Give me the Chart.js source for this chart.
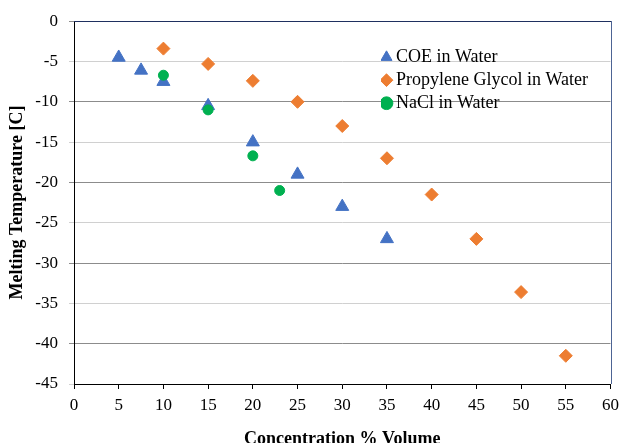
<!DOCTYPE html>
<html><head><meta charset="utf-8">
<script src="https://cdn.jsdelivr.net/npm/chart.js@4"></script>
<style>html,body{margin:0;padding:0;background:#fff}canvas{display:block}</style>
</head><body>
<canvas id="c" width="619" height="443"></canvas>
<script>
// ---- data ----
const seriesNames = ['COE in Water', 'Propylene Glycol in Water', 'NaCl in Water'];
const coeX = [5, 7.5, 10, 15, 20, 25, 30, 35];
const coeY = [-4.5, -6.1, -7.5, -10.5, -15, -19, -23, -27];
const pgX = [10, 15, 20, 25, 30, 35, 40, 45, 50, 55];
const pgY = [-3.4, -5.3, -7.4, -10, -13, -17, -21.5, -27, -33.6, -41.5];
const naclX = [10, 15, 20, 23];
const naclY = [-6.7, -11, -16.7, -21];
const xTitle = 'Concentration % Volume';
const yTitle = 'Melting Temperature [C]';
const xMin = 0, xMax = 60, xStep = 5;
const yMin = -45, yMax = 0, yStep = 5;

const toPoints = (xs, ys) => xs.map((x, i) => ({x: x, y: ys[i]}));

const FONT = "'Liberation Serif','Times New Roman',Times,serif";
Chart.defaults.font.family = FONT;
Chart.defaults.font.size = 17;
Chart.defaults.color = '#000';

const gridColor = (c) => (Math.abs(c.tick ? c.tick.value : 0) % 10 === 0) ? '#8c8c8c' : '#d0d0d0';

const framePlugin = {
  id: 'frame',
  afterDatasetsDraw(chart) {
    const {ctx, chartArea: a} = chart;
    ctx.save();
    ctx.lineWidth = 1;
    ctx.strokeStyle = '#1f3060';
    ctx.beginPath(); ctx.moveTo(Math.round(a.left), Math.round(a.top) + 0.5); ctx.lineTo(Math.round(a.right) + 1, Math.round(a.top) + 0.5); ctx.stroke();
    ctx.strokeStyle = '#4d6494';
    ctx.beginPath(); ctx.moveTo(Math.round(a.right) + 0.5, Math.round(a.top)); ctx.lineTo(Math.round(a.right) + 0.5, Math.round(a.bottom)); ctx.stroke();
    ctx.restore();
  }
};

const legendPlace = {
  id: 'legendPlace',
  afterLayout(chart, args, opts) {
    const l = chart.legend;
    if (!l) return;
    const a = chart.chartArea;
    const w = l.width;
    l.left = a.left + opts.dx;
    l.right = l.left + w;
    l.top = a.top + opts.dy;
    l.bottom = a.bottom;
  }
};

new Chart(document.getElementById('c'), {
  type: 'scatter',
  data: {
    datasets: [
      {label: seriesNames[0], data: toPoints(coeX, coeY), pointStyle: 'triangle', pointRadius: 7.5, pointHoverRadius: 7.5,
       backgroundColor: '#4472C4', borderColor: '#4472C4', borderWidth: 1, order: 2},
      {label: seriesNames[1], data: toPoints(pgX, pgY), pointStyle: 'rectRot', pointRadius: 6.5, pointHoverRadius: 6.5,
       backgroundColor: '#ED7D31', borderColor: '#ED7D31', borderWidth: 1, order: 1},
      {label: seriesNames[2], data: toPoints(naclX, naclY), pointStyle: 'circle', pointRadius: 5, pointHoverRadius: 5,
       backgroundColor: '#00B050', borderColor: '#00B050', borderWidth: 1, order: 0}
    ]
  },
  options: {
    responsive: false, animation: false, devicePixelRatio: 1,
    layout: {padding: {top: 19, right: 8, left: 0, bottom: 0}},
    plugins: {
      tooltip: {enabled: false},
      legend: {
        position: 'chartArea', align: 'start',
        labels: {usePointStyle: true, boxWidth: 1, boxHeight: 9, padding: 5, color: '#000',
                 font: {size: 18}, sort: (a, b) => a.datasetIndex - b.datasetIndex}
      },
      legendPlace: {dx: 307, dy: 22}
    },
    scales: {
      x: {
        type: 'linear', min: xMin, max: xMax,
        ticks: {stepSize: xStep, padding: 6, color: '#000', maxRotation: 0, font: {size: 17}},
        grid: {drawOnChartArea: false, drawTicks: true, tickLength: 5, tickColor: '#000'},
        border: {color: '#000', width: 1},
        title: {display: true, text: xTitle, color: '#000', font: {size: 18, weight: 'bold'}, padding: {top: 0, bottom: -7}},
        afterFit(s) { s.height = 59; s.paddingRight = 0; s.paddingLeft = 0; }
      },
      y: {
        type: 'linear', min: yMin, max: yMax,
        ticks: {stepSize: yStep, padding: 11, color: '#000', font: {size: 17}},
        grid: {color: gridColor, tickColor: gridColor, tickLength: 5},
        border: {color: '#000', width: 1},
        title: {display: true, text: yTitle, color: '#000', font: {size: 18, weight: 'bold'}, padding: {top: 7, bottom: 0}},
        afterFit(s) { s.width = 74; }
      }
    }
  },
  plugins: [framePlugin, legendPlace]
});
</script>
</body></html>
